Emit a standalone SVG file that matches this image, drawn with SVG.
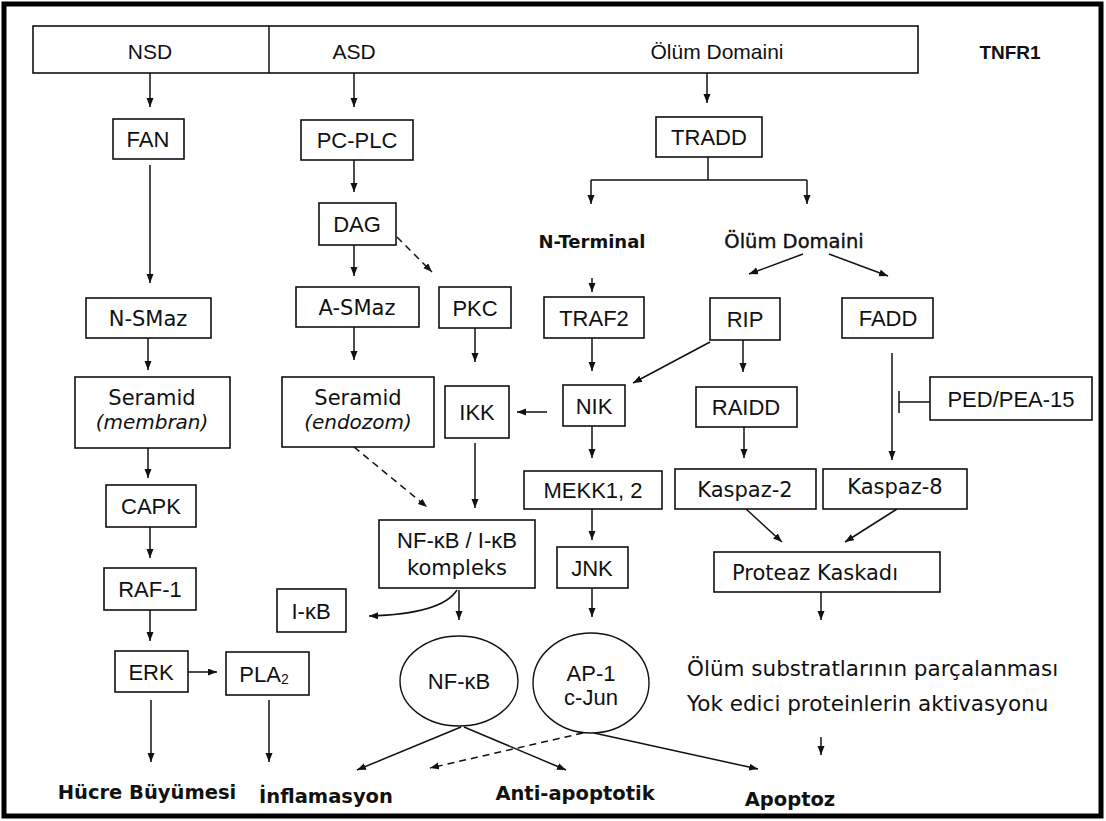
<svg xmlns="http://www.w3.org/2000/svg" width="1106" height="821" viewBox="0 0 1106 821">
<style>
.bx{fill:#fff;stroke:#111;stroke-width:1.6}
.el{fill:#fff;stroke:#111;stroke-width:1.4}
.ln{fill:none;stroke:#111;stroke-width:1.5}
.ar{fill:none;stroke:#111;stroke-width:1.5;marker-end:url(#ah)}
.da{fill:none;stroke:#111;stroke-width:1.5;stroke-dasharray:7 5;marker-end:url(#ah)}
.a{font-family:"Liberation Sans",Arial,sans-serif;font-size:22px;fill:#111;text-anchor:middle}
.t{font-family:"DejaVu Sans","Noto Sans",sans-serif;font-size:21px;fill:#111;text-anchor:middle}
.tb{font-family:"DejaVu Sans","Noto Sans",sans-serif;font-size:19.5px;font-weight:bold;fill:#111;text-anchor:middle}
.it{font-style:italic;font-size:20px}
</style>
<defs>
<marker id="ah" markerUnits="userSpaceOnUse" markerWidth="10" markerHeight="8" refX="9" refY="3.5" orient="auto"><path d="M0,0 L9,3.5 L0,7 z" fill="#111"/></marker>
</defs>
<rect x="4" y="4" width="1097" height="812" fill="#fff" stroke="#000" stroke-width="5"/>

<g id="receptor">
<rect class="bx" x="33" y="26" width="885" height="47"/>
<line class="ln" x1="269" y1="26" x2="269" y2="73"/>
<text class="a" x="150" y="59" style="font-size:21px">NSD</text>
<text class="a" x="354" y="59" style="font-size:21px">ASD</text>
<text class="a" x="717" y="59" style="font-size:21px">Ölüm Domaini</text>
</g>
<g id="tnfr1"><text class="a" x="1010" y="59" style="font-weight:bold;font-size:19px">TNFR1</text></g>

<g id="connectors">
<line class="ar" x1="150" y1="73" x2="150" y2="107"/>
<line class="ar" x1="354" y1="73" x2="354" y2="107"/>
<line class="ar" x1="707" y1="73" x2="707" y2="103"/>
<line class="ar" x1="150" y1="165" x2="150" y2="283"/>
<line class="ar" x1="354" y1="160" x2="354" y2="192"/>
<polyline class="ln" points="708,157 708,180"/>
<line class="ln" x1="591" y1="180" x2="807" y2="180"/>
<line class="ar" x1="591" y1="180" x2="591" y2="204"/>
<line class="ar" x1="807" y1="180" x2="807" y2="204"/>
<line class="ar" x1="354" y1="245" x2="354" y2="276"/>
<line class="da" x1="397" y1="237" x2="432" y2="272"/>
<line class="ar" x1="803" y1="254" x2="749" y2="274"/>
<line class="ar" x1="829" y1="254" x2="888" y2="276"/>
<line class="ar" x1="592" y1="278" x2="592" y2="292"/>
<line class="ar" x1="148" y1="338" x2="148" y2="370"/>
<line class="ar" x1="354" y1="327" x2="354" y2="360"/>
<line class="ar" x1="475" y1="328" x2="475" y2="362"/>
<line class="ar" x1="592" y1="338" x2="592" y2="371"/>
<line class="ar" x1="710" y1="342" x2="633" y2="383"/>
<line class="ar" x1="743" y1="340" x2="743" y2="372"/>
<line class="ar" x1="892" y1="353" x2="892" y2="460"/>
<line class="ln" x1="930" y1="402" x2="899" y2="402"/>
<line class="ln" x1="899" y1="391" x2="899" y2="413"/>
<line class="ar" x1="547" y1="412" x2="517" y2="412"/>
<line class="ar" x1="148" y1="448" x2="148" y2="478"/>
<line class="da" x1="354" y1="447" x2="427" y2="507"/>
<line class="ar" x1="475" y1="443" x2="475" y2="508"/>
<line class="ar" x1="592" y1="426" x2="592" y2="458"/>
<line class="ar" x1="744" y1="427" x2="744" y2="458"/>
<line class="ar" x1="150" y1="527" x2="150" y2="558"/>
<line class="ar" x1="592" y1="509" x2="592" y2="540"/>
<line class="ar" x1="746" y1="509" x2="782" y2="542"/>
<line class="ar" x1="897" y1="509" x2="845" y2="542"/>
<line class="ar" x1="150" y1="610" x2="150" y2="641"/>
<path class="ar" d="M457,590 Q442,614 369,616"/>
<line class="ar" x1="459" y1="590" x2="459" y2="620"/>
<line class="ar" x1="592" y1="588" x2="592" y2="617"/>
<line class="ar" x1="821" y1="592" x2="821" y2="620"/>
<line class="ar" x1="188" y1="672" x2="217" y2="672"/>
<line class="ar" x1="151" y1="700" x2="151" y2="762"/>
<line class="ar" x1="269" y1="700" x2="269" y2="762"/>
<line class="ar" x1="461" y1="727" x2="357" y2="770"/>
<line class="ar" x1="464" y1="727" x2="566" y2="770"/>
<line class="da" x1="583" y1="733" x2="430" y2="768"/>
<line class="ar" x1="594" y1="733" x2="758" y2="769"/>
<line class="ar" x1="821" y1="737" x2="821" y2="755"/>
</g>

<g id="fan"><rect class="bx" x="113" y="119" width="71" height="40"/><text class="a" x="148" y="147">FAN</text></g>
<g id="pcplc"><rect class="bx" x="301" y="120" width="112" height="40"/><text class="a" x="357" y="148">PC-PLC</text></g>
<g id="tradd"><rect class="bx" x="656" y="117" width="106" height="40"/><text class="a" x="709" y="145">TRADD</text></g>
<g id="dag"><rect class="bx" x="319" y="203" width="77" height="42"/><text class="a" x="357" y="232">DAG</text></g>
<g id="nterminal"><text class="tb" x="592" y="248" style="font-size:18px">N-Terminal</text></g>
<g id="olumdomaini2"><text class="t" x="794" y="248" style="font-size:19.5px;stroke:#111;stroke-width:0.4">Ölüm Domaini</text></g>
<g id="nsmaz"><rect class="bx" x="86" y="298" width="125" height="40"/><text class="t" x="148" y="326">N-SMaz</text></g>
<g id="asmaz"><rect class="bx" x="296" y="287" width="123" height="40"/><text class="t" x="357" y="315">A-SMaz</text></g>
<g id="pkc"><rect class="bx" x="439" y="287" width="72" height="41"/><text class="a" x="475" y="316">PKC</text></g>
<g id="traf2"><rect class="bx" x="544" y="297" width="100" height="41"/><text class="a" x="594" y="326">TRAF2</text></g>
<g id="rip"><rect class="bx" x="710" y="298" width="70" height="42"/><text class="a" x="745" y="327">RIP</text></g>
<g id="fadd"><rect class="bx" x="842" y="298" width="91" height="40"/><text class="a" x="888" y="326">FADD</text></g>
<g id="seramid1"><rect class="bx" x="75" y="377" width="155" height="71"/><text class="t" x="152" y="405">Seramid</text><text class="t it" x="152" y="429">(membran)</text></g>
<g id="seramid2"><rect class="bx" x="282" y="377" width="152" height="70"/><text class="t" x="358" y="405">Seramid</text><text class="t it" x="358" y="429">(endozom)</text></g>
<g id="ikk"><rect class="bx" x="445" y="386" width="64" height="52"/><text class="a" x="477" y="420">IKK</text></g>
<g id="nik"><rect class="bx" x="563" y="385" width="62" height="41"/><text class="a" x="594" y="414">NIK</text></g>
<g id="raidd"><rect class="bx" x="696" y="387" width="101" height="40"/><text class="a" x="746" y="415">RAIDD</text></g>
<g id="ped"><rect class="bx" x="930" y="377" width="162" height="43"/><text class="a" x="1011" y="407">PED/PEA-15</text></g>
<g id="capk"><rect class="bx" x="106" y="485" width="90" height="42"/><text class="a" x="151" y="514">CAPK</text></g>
<g id="mekk"><rect class="bx" x="524" y="471" width="138" height="38"/><text class="a" x="593" y="498">MEKK1, 2</text></g>
<g id="kaspaz2"><rect class="bx" x="675" y="469" width="141" height="40"/><text class="t" x="745" y="497">Kaspaz-2</text></g>
<g id="kaspaz8"><rect class="bx" x="823" y="469" width="144" height="40"/><text class="t" x="895" y="494">Kaspaz-8</text></g>
<g id="kompleks"><rect class="bx" x="379" y="520" width="156" height="68"/><text class="a" x="457" y="548">NF-κB / I-κB</text><text class="t" x="457" y="575">kompleks</text></g>
<g id="jnk"><rect class="bx" x="557" y="547" width="71" height="41"/><text class="a" x="592" y="576">JNK</text></g>
<g id="proteaz"><rect class="bx" x="714" y="552" width="226" height="40"/><text class="t" x="815" y="580">Proteaz Kaskadı</text></g>
<g id="raf1"><rect class="bx" x="104" y="568" width="92" height="42"/><text class="a" x="150" y="597">RAF-1</text></g>
<g id="ikb"><rect class="bx" x="277" y="589" width="69" height="43"/><text class="a" x="311" y="619">I-κB</text></g>
<g id="erk"><rect class="bx" x="115" y="651" width="73" height="41"/><text class="a" x="151" y="680">ERK</text></g>
<g id="pla2"><rect class="bx" x="226" y="652" width="83" height="43"/><text class="a" x="264" y="682">PLA<tspan font-size="14" dy="2">2</tspan></text></g>
<g id="nfkb"><ellipse class="el" cx="459" cy="681" rx="59" ry="45"/><text class="a" x="459" y="689">NF-κB</text></g>
<g id="ap1"><ellipse class="el" cx="591" cy="683" rx="58" ry="50"/><text class="a" x="591" y="681">AP-1</text><text class="a" x="591" y="705">c-Jun</text></g>
<g id="olumsub"><text class="t" x="687" y="676" style="text-anchor:start;font-size:21.5px">Ölüm substratlarının parçalanması</text><text class="t" x="687" y="711" style="text-anchor:start;font-size:21.5px">Yok edici proteinlerin aktivasyonu</text></g>
<g id="hucre"><text class="tb" x="147" y="799">Hücre Büyümesi</text></g>
<g id="inflamasyon"><text class="tb" x="326" y="803">İnflamasyon</text></g>
<g id="antiapoptotik"><text class="tb" x="575" y="800">Anti-apoptotik</text></g>
<g id="apoptoz"><text class="tb" x="790" y="806">Apoptoz</text></g>
</svg>
